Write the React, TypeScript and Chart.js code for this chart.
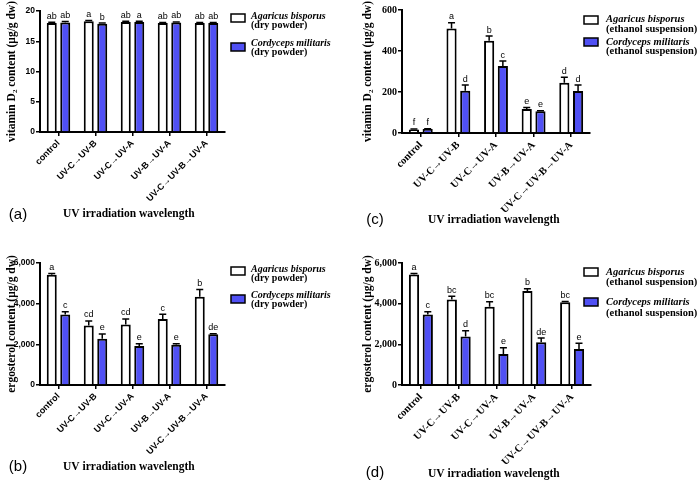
import React, { useEffect, useRef } from 'react';
import { Chart, registerables } from 'chart.js';

Chart.register(...registerables);

// ---------- data ----------
const categories = ['control', 'UV-C→UV-B', 'UV-C→UV-A', 'UV-B→UV-A', 'UV-C→UV-B→UV-A'];

// (a) vitamin D2, dry powder (μg/g dw)
const aAgaricus = [18.0, 18.3, 18.2, 18.0, 18.0];
const aAgaricusErr = [0.15, 0.15, 0.1, 0.1, 0.1];
const aAgaricusLetters = ['ab', 'a', 'ab', 'ab', 'ab'];
const aCordyceps = [18.1, 17.9, 18.2, 18.1, 18.0];
const aCordycepsErr = [0.15, 0.1, 0.1, 0.1, 0.1];
const aCordycepsLetters = ['ab', 'b', 'a', 'ab', 'ab'];

// (b) ergosterol, dry powder
const bAgaricus = [5420, 2930, 2970, 3250, 4340];
const bAgaricusErr = [60, 220, 280, 230, 360];
const bAgaricusLetters = ['a', 'cd', 'cd', 'c', 'b'];
const bCordyceps = [3470, 2280, 1920, 1985, 2490];
const bCordycepsErr = [130, 230, 110, 40, 30];
const bCordycepsLetters = ['c', 'e', 'e', 'e', 'de'];

// (c) vitamin D2, ethanol suspension
const cAgaricus = [17, 510, 450, 117, 245];
const cAgaricusErr = [3, 28, 23, 8, 27];
const cAgaricusLetters = ['f', 'a', 'b', 'e', 'd'];
const cCordyceps = [19, 206, 327, 106, 205];
const cCordycepsErr = [2, 28, 24, 3, 29];
const cCordycepsLetters = ['f', 'd', 'c', 'e', 'd'];

// (d) ergosterol, ethanol suspension
const dAgaricus = [5430, 4210, 3850, 4620, 4070];
const dAgaricusErr = [50, 160, 250, 110, 40];
const dAgaricusLetters = ['a', 'bc', 'bc', 'b', 'bc'];
const dCordyceps = [3470, 2380, 1520, 2100, 1770];
const dCordycepsErr = [130, 290, 310, 210, 280];
const dCordycepsLetters = ['c', 'd', 'e', 'de', 'e'];

const BLUE = '#5050f4';
const SANS = '"Liberation Sans", Arial, sans-serif';
const SERIF = '"Liberation Serif", "Times New Roman", serif';

type Part = { t: string; sub?: boolean };
const vitTitle: Part[] = [{ t: 'vitamin D' }, { t: '2', sub: true }, { t: ' content (μg/g dw)' }];
const ergTitle: Part[] = [{ t: 'ergosterol content (μg/g dw)' }];

type PanelCfg = {
  x: number; y: number; w: number; h: number;
  left: number; top: number; right: number; bottom: number;
  yMax: number; yStep: number;
  tickFamily: string; yTickSize: number; xTickSize: number;
  yTitle: Part[]; yTitleX: number;
  xTitleX: number; xTitleY: number;
  label: string; labelX: number; labelY: number;
  legendBoxX: number; legendTextX: number; legendBox1: number; legendBox2: number;
  legendLines: number[]; legendSuffix: string; legendSize: number;
  series: { values: number[]; errors: number[]; letters: string[]; color: string }[];
};

const panels: PanelCfg[] = [
  {
    x: 0, y: 0, w: 349, h: 240, left: 40, top: 11, right: 225, bottom: 132,
    yMax: 20, yStep: 5, tickFamily: SANS, yTickSize: 8.5, xTickSize: 9,
    yTitle: vitTitle, yTitleX: 12, xTitleX: 63, xTitleY: 214,
    label: '(a)', labelX: 18, labelY: 215,
    legendBoxX: 231, legendTextX: 251, legendBox1: 14, legendBox2: 43,
    legendLines: [16, 25.5, 43, 52.5], legendSuffix: '(dry powder)', legendSize: 10,
    series: [
      { values: aAgaricus, errors: aAgaricusErr, letters: aAgaricusLetters, color: '#ffffff' },
      { values: aCordyceps, errors: aCordycepsErr, letters: aCordycepsLetters, color: BLUE },
    ],
  },
  {
    x: 0, y: 240, w: 349, h: 241, left: 40, top: 23, right: 225, bottom: 145,
    yMax: 6000, yStep: 2000, tickFamily: SANS, yTickSize: 8.5, xTickSize: 9,
    yTitle: ergTitle, yTitleX: 12, xTitleX: 63, xTitleY: 227,
    label: '(b)', labelX: 18, labelY: 227,
    legendBoxX: 231, legendTextX: 251, legendBox1: 27, legendBox2: 55,
    legendLines: [29, 38.5, 55, 64.5], legendSuffix: '(dry powder)', legendSize: 10,
    series: [
      { values: bAgaricus, errors: bAgaricusErr, letters: bAgaricusLetters, color: '#ffffff' },
      { values: bCordyceps, errors: bCordycepsErr, letters: bCordycepsLetters, color: BLUE },
    ],
  },
  {
    x: 349, y: 0, w: 349, h: 240, left: 53, top: 10, right: 241, bottom: 133,
    yMax: 600, yStep: 200, tickFamily: SERIF, yTickSize: 10, xTickSize: 10.5,
    yTitle: vitTitle, yTitleX: 19, xTitleX: 79, xTitleY: 220,
    label: '(c)', labelX: 26, labelY: 220,
    legendBoxX: 235, legendTextX: 257, legendBox1: 16, legendBox2: 38,
    legendLines: [19.5, 29.5, 42, 51.5], legendSuffix: '(ethanol suspension)', legendSize: 10.5,
    series: [
      { values: cAgaricus, errors: cAgaricusErr, letters: cAgaricusLetters, color: '#ffffff' },
      { values: cCordyceps, errors: cCordycepsErr, letters: cCordycepsLetters, color: BLUE },
    ],
  },
  {
    x: 349, y: 240, w: 349, h: 241, left: 53, top: 23, right: 242, bottom: 145,
    yMax: 6000, yStep: 2000, tickFamily: SERIF, yTickSize: 10, xTickSize: 10.5,
    yTitle: ergTitle, yTitleX: 19, xTitleX: 79, xTitleY: 234,
    label: '(d)', labelX: 26, labelY: 233,
    legendBoxX: 235, legendTextX: 257, legendBox1: 28, legendBox2: 58,
    legendLines: [32, 42, 62, 73], legendSuffix: '(ethanol suspension)', legendSize: 10.5,
    series: [
      { values: dAgaricus, errors: dAgaricusErr, letters: dAgaricusLetters, color: '#ffffff' },
      { values: dCordyceps, errors: dCordycepsErr, letters: dCordycepsLetters, color: BLUE },
    ],
  },
];

function drawYTitle(ctx: CanvasRenderingContext2D, parts: Part[], cx: number, cy: number, size: number) {
  ctx.save();
  ctx.translate(cx, cy);
  ctx.rotate(-Math.PI / 2);
  const fMain = `bold ${size}px ${SERIF}`;
  const fSub = `bold ${Math.round(size * 0.65)}px ${SERIF}`;
  let total = 0;
  parts.forEach((p) => {
    ctx.font = p.sub ? fSub : fMain;
    total += ctx.measureText(p.t).width;
  });
  let x = -total / 2;
  ctx.textAlign = 'left';
  ctx.textBaseline = 'middle';
  ctx.fillStyle = '#000';
  parts.forEach((p) => {
    ctx.font = p.sub ? fSub : fMain;
    ctx.fillText(p.t, x, p.sub ? size * 0.3 : 0);
    x += ctx.measureText(p.t).width;
  });
  ctx.restore();
}

function makeOverlay(cfg: PanelCfg) {
  return {
    id: 'overlay',
    afterDatasetsDraw(chart: any) {
      const ctx: CanvasRenderingContext2D = chart.ctx;
      const ys = chart.scales.y;
      cfg.series.forEach((s, di) => {
        const meta = chart.getDatasetMeta(di);
        meta.data.forEach((bar: any, i: number) => {
          const top = ys.getPixelForValue(s.values[i] + s.errors[i]);
          ctx.save();
          ctx.strokeStyle = '#000';
          ctx.lineWidth = 1.5;
          ctx.beginPath();
          ctx.moveTo(bar.x, bar.y);
          ctx.lineTo(bar.x, top);
          ctx.moveTo(bar.x - 3.5, top);
          ctx.lineTo(bar.x + 3.5, top);
          ctx.stroke();
          ctx.fillStyle = '#000';
          ctx.font = `9px ${SANS}`;
          ctx.textAlign = 'center';
          ctx.textBaseline = 'bottom';
          ctx.fillText(s.letters[i], bar.x, top - 1.5);
          ctx.restore();
        });
      });
    },
    afterDraw(chart: any) {
      const ctx: CanvasRenderingContext2D = chart.ctx;
      const ca = chart.chartArea;
      ctx.save();
      // y title
      drawYTitle(ctx, cfg.yTitle, cfg.yTitleX, (ca.top + ca.bottom) / 2, 11.5);
      // x title
      ctx.fillStyle = '#000';
      ctx.font = `bold 11.5px ${SERIF}`;
      ctx.textAlign = 'left';
      ctx.textBaseline = 'middle';
      ctx.fillText('UV irradiation wavelength', cfg.xTitleX, cfg.xTitleY);
      // panel label
      ctx.font = `15px ${SANS}`;
      ctx.textAlign = 'center';
      ctx.fillText(cfg.label, cfg.labelX, cfg.labelY);
      // legend
      const boxes = [cfg.legendBox1, cfg.legendBox2];
      const names = ['Agaricus bisporus', 'Cordyceps militaris'];
      boxes.forEach((by, k) => {
        ctx.fillStyle = cfg.series[k].color;
        ctx.fillRect(cfg.legendBoxX, by, 14, 8);
        ctx.strokeStyle = '#000';
        ctx.lineWidth = 1.5;
        ctx.strokeRect(cfg.legendBoxX, by, 14, 8);
        ctx.fillStyle = '#000';
        ctx.textAlign = 'left';
        ctx.textBaseline = 'middle';
        ctx.font = `italic bold ${cfg.legendSize}px ${SERIF}`;
        ctx.fillText(names[k], cfg.legendTextX, cfg.legendLines[k * 2]);
        ctx.font = `bold ${cfg.legendSize}px ${SERIF}`;
        ctx.fillText(cfg.legendSuffix, cfg.legendTextX, cfg.legendLines[k * 2 + 1]);
      });
      ctx.restore();
    },
  };
}

function Panel({ cfg }: { cfg: PanelCfg }) {
  const ref = useRef<HTMLCanvasElement>(null);
  useEffect(() => {
    if (!ref.current) return;
    const chart = new Chart(ref.current, {
      type: 'bar',
      data: {
        labels: categories,
        datasets: cfg.series.map((s) => ({
          data: s.values,
          backgroundColor: s.color,
          borderColor: '#000',
          borderWidth: 2,
          barPercentage: 0.74,
          categoryPercentage: 0.73,
        })),
      },
      options: {
        responsive: false,
        animation: false,
        layout: { padding: { left: 0, top: cfg.top, right: cfg.w - cfg.right, bottom: 0 } },
        plugins: { legend: { display: false }, tooltip: { enabled: false } },
        scales: {
          x: {
            type: 'category',
            grid: { display: true, drawOnChartArea: false, offset: false, color: '#000', lineWidth: 1.5, tickLength: 4 },
            border: { display: true, color: '#000', width: 2 },
            ticks: {
              color: '#000',
              font: { family: cfg.tickFamily, size: cfg.xTickSize, weight: 'bold' },
              maxRotation: 45,
              minRotation: 45,
              autoSkip: false,
              padding: 2,
            },
            afterFit: (s: any) => { s.height = cfg.h - cfg.bottom; },
          },
          y: {
            min: 0,
            max: cfg.yMax,
            ticks: {
              stepSize: cfg.yStep,
              color: '#000',
              padding: 1,
              font: { family: cfg.tickFamily, size: cfg.yTickSize, weight: 'bold' },
            },
            grid: { display: true, drawOnChartArea: false, color: '#000', lineWidth: 1.5, tickLength: 4 },
            border: { display: true, color: '#000', width: 2 },
            afterFit: (s: any) => { s.width = cfg.left; },
          },
        },
      } as any,
      plugins: [makeOverlay(cfg)],
    });
    return () => chart.destroy();
  }, [cfg]);
  return (
    <canvas
      ref={ref}
      width={cfg.w}
      height={cfg.h}
      style={{ position: 'absolute', left: cfg.x, top: cfg.y, width: cfg.w, height: cfg.h }}
    />
  );
}

export default function App() {
  return (
    <div style={{ position: 'fixed', left: 0, top: 0, width: 698, height: 481, background: '#fff', overflow: 'hidden' }}>
      {panels.map((p) => (
        <Panel key={p.label} cfg={p} />
      ))}
    </div>
  );
}
